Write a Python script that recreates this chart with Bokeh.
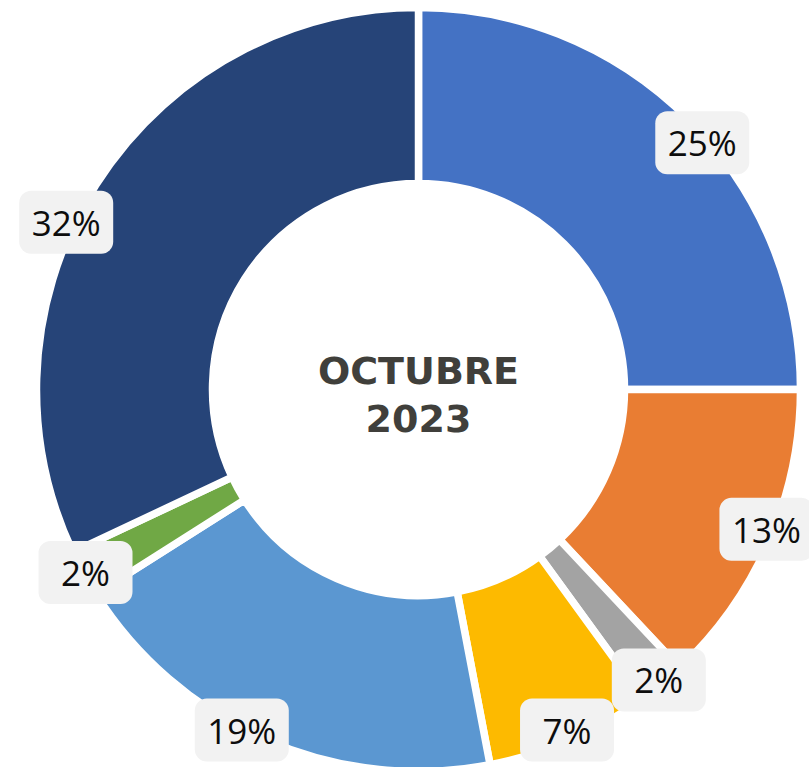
import math
from bokeh.plotting import figure
from bokeh.models import Range1d, ColumnDataSource
from bokeh.core.properties import value
from bokeh.embed import file_html
from bokeh.resources import INLINE

# ---- data (clockwise from 12 o'clock) ----
shares = [25, 13, 2, 7, 19, 2, 32]
labels = ["25%", "13%", "2%", "7%", "19%", "2%", "32%"]
colors = ["#4472C4", "#E97D33", "#A3A3A3", "#FDBA00", "#5B97D1", "#70A845", "#264478"]
center_lines = ["OCTUBRE", "2023"]

# ---- layout (screen-like units: 1 unit = 1 px, y up) ----
W, H = 809, 767
cx, cy = 418, -389
r_out, r_in = 382, 206
gap = 7.5
box_w, box_h = 94, 63
# label placement nudges (degrees clockwise from the slice's mid-angle, radius)
label_nudge_deg = [4, -1.5, 0, 0, 4, 0, -7]
label_radius = [376, 375, 377, 374, 384, 380, 390]

total = float(sum(shares))
starts, ends, mids = [], [], []
acc = 0.0
for s in shares:
    a0 = math.pi / 2 - 2 * math.pi * acc / total
    acc += s
    a1 = math.pi / 2 - 2 * math.pi * acc / total
    starts.append(a0)
    ends.append(a1)
    mids.append((a0 + a1) / 2)

lx, ly = [], []
xmin, xmax = box_w / 2 + 6, W - 30
ymin, ymax = -H + box_h / 2 + 6, -box_h / 2 - 6
for m, nd, lr in zip(mids, label_nudge_deg, label_radius):
    a = m - math.radians(nd)
    x = cx + lr * math.cos(a)
    y = cy + lr * math.sin(a)
    lx.append(min(max(x, xmin), xmax))
    ly.append(min(max(y, ymin), ymax))

src = ColumnDataSource(dict(
    start=starts, end=ends, color=colors, label=labels,
    lx=lx, ly=ly,
    left=[x - box_w / 2 for x in lx], right=[x + box_w / 2 for x in lx],
    top=[y + box_h / 2 for y in ly], bottom=[y - box_h / 2 for y in ly],
))

p = figure(width=W, height=H, output_backend="svg", toolbar_location=None,
           x_range=Range1d(0, W), y_range=Range1d(-H, 0),
           min_border=0, outline_line_color=None)
p.axis.visible = False
p.grid.visible = False
p.background_fill_color = "white"
p.border_fill_color = "white"

p.annular_wedge(x=cx, y=cy, inner_radius=r_in, outer_radius=r_out,
                start_angle="start", end_angle="end", direction="clock",
                fill_color="color", line_color="white", line_width=gap,
                source=src)

p.quad(left="left", right="right", top="top", bottom="bottom",
       fill_color="#F2F2F2", line_color=None, border_radius=12, source=src)

p.text(x="lx", y="ly", text="label", source=src,
       text_font=value("Open Sans"), text_font_size="35px",
       text_color="#0d0d0d", text_align="center", text_baseline="middle")

p.text(x=[cx, cx], y=[cy + 19, cy - 29], text=center_lines,
       text_font=value("DejaVu Sans"), text_font_style="bold",
       text_font_size="38px", text_color="#403F3B",
       text_align="center", text_baseline="middle")

open("out.html", "w").write(file_html(p, INLINE))
